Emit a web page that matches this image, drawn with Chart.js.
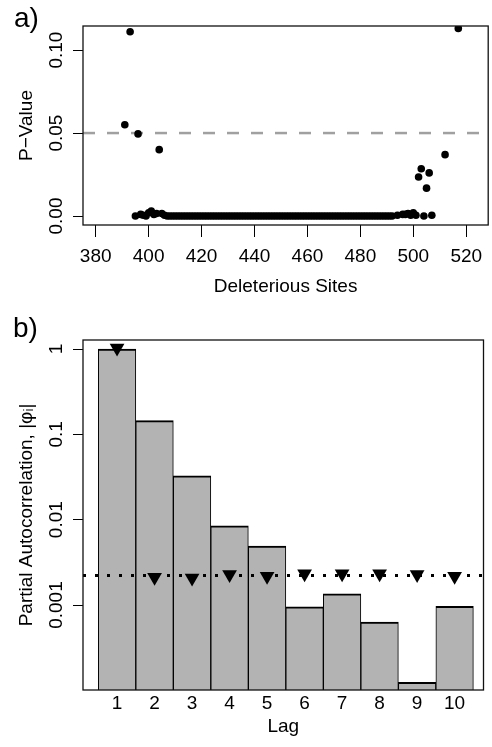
<!DOCTYPE html>
<html>
<head>
<meta charset="utf-8">
<title>Deleterious sites and partial autocorrelation</title>
<script src="https://cdn.jsdelivr.net/npm/chart.js@4.4.1/dist/chart.umd.min.js"></script>
<style>
  body { margin: 0; background: #fff; }
  #page { position: relative; width: 492px; height: 747px; overflow: hidden; font-family: "Liberation Sans", Arial, sans-serif; }
  #chartA { position: absolute; left: 0; top: 0; }
  #chartB { position: absolute; left: 0; top: 300px; }
  .tag { position: absolute; font-size: 28px; line-height: 28px; color: #000; }
</style>
</head>
<body>
<div id="page">
  <canvas id="chartA" width="492" height="300"></canvas>
  <canvas id="chartB" width="492" height="447"></canvas>
  <div class="tag" style="left:14px; top:4px">a)</div>
  <div class="tag" style="left:13px; top:314px">b)</div>
</div>
<script>
// ---- panel a: p-value per deleterious site ----
const sitesA = [
  391, 393, 395, 396, 397, 398, 399, 400, 401, 402, 403, 404, 405, 406,
  407, 408, 409, 410, 411, 412, 413, 414, 415, 416, 417, 418, 419, 420, 421, 422, 423, 424, 425, 426,
  427, 428, 429, 430, 431, 432, 433, 434, 435, 436, 437, 438, 439, 440, 441, 442, 443, 444, 445, 446,
  447, 448, 449, 450, 451, 452, 453, 454, 455, 456, 457, 458, 459, 460, 461, 462, 463, 464, 465, 466,
  467, 468, 469, 470, 471, 472, 473, 474, 475, 476, 477, 478, 479, 480, 481, 482, 483, 484, 485, 486,
  487, 488, 489, 490, 491, 492,
  494, 496, 497, 498, 499, 500, 501, 502, 503, 504, 505, 506, 507, 512, 517
];
const pValuesA = [
  0.055, 0.111, 0, 0.0495, 0.001, 0.0005, 0, 0.002, 0.003, 0.001, 0.0015, 0.040, 0.0015, 0.0005,
  0, 0, 0, 0, 0, 0, 0, 0, 0, 0, 0, 0, 0, 0, 0, 0, 0, 0, 0, 0,
  0, 0, 0, 0, 0, 0, 0, 0, 0, 0, 0, 0, 0, 0, 0, 0, 0, 0, 0, 0,
  0, 0, 0, 0, 0, 0, 0, 0, 0, 0, 0, 0, 0, 0, 0, 0, 0, 0, 0, 0,
  0, 0, 0, 0, 0, 0, 0, 0, 0, 0, 0, 0, 0, 0, 0, 0, 0, 0, 0, 0,
  0, 0, 0, 0, 0, 0,
  0.0005, 0.001, 0.001, 0.0015, 0.0005, 0.002, 0.0005, 0.0235, 0.0285, 0, 0.0168, 0.026, 0.0005, 0.037, 0.113
];
const cutoffA = 0.05;
const xTicksA = [380, 400, 420, 440, 460, 480, 500, 520];
const yTicksA = [0, 0.05, 0.10];
const yTickLabelsA = ['0.00', '0.05', '0.10'];
const xRangeA = [375.2, 528.3];
const yRangeA = [-0.0054, 0.1145];

// ---- panel b: partial autocorrelation by lag ----
const lags = [1, 2, 3, 4, 5, 6, 7, 8, 9, 10];
const pacf = [1.0, 0.1445, 0.0327, 0.00849, 0.00491, 0.000955, 0.001356, 0.000632, 0.000124, 0.000966];
const lagMarks = [1.03, 0.00212, 0.00208, 0.00228, 0.00218, 0.00232, 0.00232, 0.00232, 0.00228, 0.00218];
const cutoffB = 0.00222;
const yTicksB = [0.001, 0.01, 0.1, 1];
const yTickLabelsB = ['0.001', '0.01', '0.1', '1'];
const xRangeB = [0.092, 10.77];
const yRangeB = [1.01e-4, 1.275];

Chart.defaults.font.family = '"Liberation Sans", Arial, sans-serif';
Chart.defaults.font.size = 19;
Chart.defaults.color = '#000';

// box around the plot region, like R's box()
const frame = {
  id: 'frame',
  afterDraw(chart) {
    const { ctx, chartArea: a } = chart;
    ctx.save();
    ctx.strokeStyle = '#111';
    ctx.lineWidth = 1.3;
    ctx.strokeRect(a.left, a.top, a.right - a.left, a.bottom - a.top);
    ctx.restore();
  }
};

const useTicks = values => scale => { scale.ticks = values.map(v => ({ value: v })); };
const fixWidth = w => scale => { scale.width = w; };
const fixHeight = h => scale => { scale.height = h; scale.paddingLeft = 0; scale.paddingRight = 0; };
const tickMarks = len => ({ drawOnChartArea: false, color: '#000', lineWidth: 1, tickLength: len });

new Chart(document.getElementById('chartA'), {
  type: 'scatter',
  data: {
    datasets: [
      {
        data: sitesA.map((s, i) => ({ x: s, y: pValuesA[i] })),
        pointRadius: 3.8,
        pointHoverRadius: 3.8,
        pointBackgroundColor: '#000',
        pointBorderWidth: 0
      },
      {
        type: 'line',
        data: xRangeA.map(x => ({ x: x, y: cutoffA })),
        borderColor: '#a0a0a0',
        borderWidth: 2.5,
        borderDash: [12, 12],
        pointRadius: 0,
        fill: false
      }
    ]
  },
  options: {
    responsive: false,
    animation: false,
    devicePixelRatio: 1,
    layout: { padding: { top: 26, right: 1, bottom: 0, left: 0 } },
    plugins: { legend: { display: false }, tooltip: { enabled: false } },
    scales: {
      x: {
        type: 'linear',
        min: xRangeA[0], max: xRangeA[1],
        afterBuildTicks: useTicks(xTicksA),
        afterFit: fixHeight(75),
        grid: tickMarks(12),
        border: { display: false },
        ticks: { padding: 8.3, autoSkip: false, minRotation: 0, maxRotation: 0 },
        title: { display: true, text: 'Deleterious Sites', padding: { top: 0, bottom: 1.9 } }
      },
      y: {
        min: yRangeA[0], max: yRangeA[1],
        afterBuildTicks: useTicks(yTicksA),
        afterFit: fixWidth(83),
        grid: tickMarks(10),
        border: { display: false },
        ticks: {
          autoSkip: false, minRotation: 90, maxRotation: 90, crossAlign: 'center', padding: -2.2,
          callback: (v, i) => yTickLabelsA[i]
        },
        title: { display: true, text: 'P\u2212Value', padding: { top: 15, bottom: 0 } }
      }
    }
  },
  plugins: [frame]
});

new Chart(document.getElementById('chartB'), {
  type: 'bar',
  data: {
    datasets: [
      {
        type: 'line',
        order: 0,
        data: lags.map((l, i) => ({ x: l, y: lagMarks[i] })),
        showLine: false,
        pointStyle: 'triangle',
        pointRotation: 180,
        pointRadius: 8.5,
        pointHoverRadius: 8.5,
        pointBackgroundColor: '#000',
        pointBorderWidth: 0
      },
      {
        type: 'line',
        order: 1,
        data: xRangeB.map(x => ({ x: x, y: cutoffB })),
        borderColor: '#000',
        borderWidth: 3,
        borderDash: [3, 9],
        pointRadius: 0,
        fill: false
      },
      {
        type: 'bar',
        order: 2,
        data: lags.map((l, i) => ({ x: l, y: pacf[i] })),
        backgroundColor: '#b3b3b3',
        borderColor: '#000',
        borderWidth: { top: 2, left: 1, right: 1, bottom: 0 },
        borderSkipped: 'start',
        barPercentage: 1,
        categoryPercentage: 1
      }
    ]
  },
  options: {
    responsive: false,
    animation: false,
    devicePixelRatio: 1,
    layout: { padding: { top: 40, right: 1, bottom: 0, left: 0 } },
    plugins: { legend: { display: false }, tooltip: { enabled: false } },
    scales: {
      x: {
        type: 'linear',
        offset: false,
        min: xRangeB[0], max: xRangeB[1],
        afterBuildTicks: useTicks(lags),
        afterFit: fixHeight(57),
        grid: { display: false, drawTicks: false, tickLength: 0, offset: false },
        border: { display: false },
        ticks: { padding: 2, autoSkip: false, minRotation: 0, maxRotation: 0 },
        title: { display: true, text: 'Lag', padding: { top: 0, bottom: 8.7 } }
      },
      y: {
        type: 'logarithmic',
        beginAtZero: false,
        min: yRangeB[0], max: yRangeB[1],
        afterBuildTicks: useTicks(yTicksB),
        afterFit: fixWidth(83),
        grid: tickMarks(10),
        border: { display: false },
        ticks: {
          autoSkip: false, minRotation: 90, maxRotation: 90, crossAlign: 'center', padding: -7.5,
          callback: (v, i) => yTickLabelsB[i]
        },
        title: { display: true, text: 'Partial Autocorrelation, |\u03c6\u1d62|', padding: { top: 15, bottom: 0 } }
      }
    }
  },
  plugins: [frame]
});
</script>
</body>
</html>
